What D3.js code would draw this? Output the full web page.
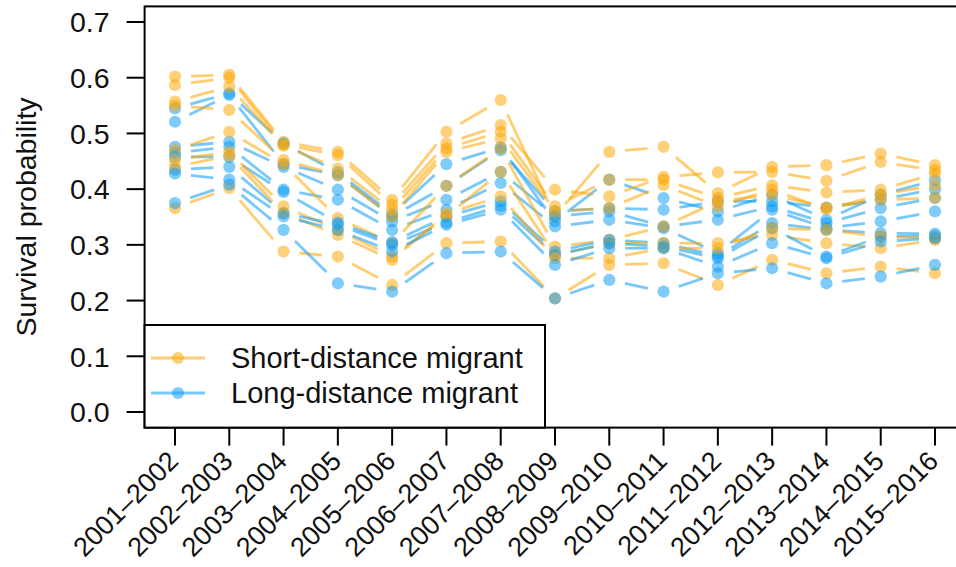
<!DOCTYPE html>
<html><head><meta charset="utf-8">
<script src="https://cdn.jsdelivr.net/npm/d3@7"></script>
<style>html,body{margin:0;padding:0;background:#fff;}svg{display:block;font-family:"Liberation Sans",Arial,Helvetica,sans-serif;}</style>
</head><body>
<svg id="c" width="956" height="567"></svg>
<script>
const periods = ["2001\u20132002","2002\u20132003","2003\u20132004","2004\u20132005","2005\u20132006","2006\u20132007","2007\u20132008","2008\u20132009","2009\u20132010","2010\u20132011","2011\u20132012","2012\u20132013","2013\u20132014","2014\u20132015","2015\u20132016"];
const yTicks = [0,0.1,0.2,0.3,0.4,0.5,0.6,0.7];
const legendLabels = ["Short-distance migrant","Long-distance migrant"];

// Short-distance migrants (one row per species)
const shortDistance = [
  [0.602,0.605,0.485,0.467,0.381,0.503,0.560,0.351,0.467,0.476,0.393,0.440,0.443,0.464,0.443],
  [0.587,0.600,0.480,0.461,0.372,0.482,0.515,0.399,0.387,0.422,0.430,0.431,0.415,0.449,0.434],
  [0.557,0.584,0.478,0.437,0.363,0.473,0.503,0.369,0.417,0.417,0.384,0.407,0.394,0.399,0.428],
  [0.550,0.542,0.452,0.425,0.351,0.467,0.491,0.360,0.366,0.407,0.369,0.399,0.364,0.390,0.407],
  [0.470,0.503,0.445,0.348,0.303,0.406,0.473,0.297,0.309,0.333,0.378,0.390,0.367,0.381,0.384],
  [0.452,0.467,0.369,0.327,0.279,0.351,0.431,0.282,0.303,0.303,0.303,0.318,0.303,0.294,0.309],
  [0.440,0.460,0.357,0.318,0.273,0.356,0.387,0.276,0.276,0.294,0.294,0.330,0.327,0.315,0.312],
  [0.366,0.402,0.288,0.279,0.228,0.303,0.306,0.204,0.264,0.267,0.228,0.273,0.249,0.261,0.249]
];
// Long-distance migrants (one row per species)
const longDistance = [
  [0.545,0.572,0.482,0.430,0.355,0.445,0.475,0.342,0.417,0.384,0.360,0.390,0.345,0.390,0.416],
  [0.521,0.569,0.445,0.425,0.351,0.406,0.470,0.360,0.366,0.363,0.378,0.378,0.367,0.381,0.400],
  [0.476,0.485,0.440,0.399,0.342,0.381,0.431,0.351,0.360,0.333,0.345,0.369,0.339,0.366,0.384],
  [0.465,0.476,0.399,0.381,0.327,0.363,0.411,0.333,0.345,0.330,0.285,0.363,0.330,0.342,0.360],
  [0.458,0.458,0.395,0.340,0.305,0.351,0.378,0.288,0.309,0.303,0.280,0.339,0.327,0.321,0.320],
  [0.435,0.440,0.357,0.336,0.300,0.340,0.370,0.282,0.303,0.297,0.276,0.330,0.279,0.315,0.316],
  [0.428,0.417,0.351,0.327,0.288,0.336,0.363,0.264,0.294,0.294,0.261,0.303,0.276,0.306,0.312],
  [0.375,0.408,0.327,0.231,0.216,0.285,0.288,0.204,0.237,0.216,0.249,0.258,0.231,0.243,0.264]
];

const colShort = "#FFA500", colLong = "#0A9BF5";
const svg = d3.select("#c");
const x = d3.scaleLinear().domain([1, 15]).range([175, 935]);
const y = d3.scaleLinear().domain([0, 0.7]).range([412, 22]);
const xPad = (x(2) - x(1)) * 0.56, yPad = (y(0) - y(0.7)) * 0.04;
const boxL = x(1) - xPad, boxR = x(15) + xPad, boxT = y(0.7) - yPad, boxB = y(0) + yPad;

const gData = svg.append("g");
const gap = 16;
function drawSeries(vals, color) {
  const pts = vals.map((v, i) => [x(i + 1), y(v)]);
  for (let i = 0; i < pts.length - 1; i++) {
    const [x1, y1] = pts[i], [x2, y2] = pts[i + 1];
    const L = Math.hypot(x2 - x1, y2 - y1);
    if (L <= 2 * gap) continue;
    const ux = (x2 - x1) / L, uy = (y2 - y1) / L;
    gData.append("line")
      .attr("x1", x1 + ux * gap).attr("y1", y1 + uy * gap)
      .attr("x2", x2 - ux * gap).attr("y2", y2 - uy * gap)
      .attr("stroke", color).attr("stroke-opacity", 0.55)
      .attr("stroke-width", 2.8).attr("stroke-linecap", "butt");
  }
  gData.selectAll(null).data(pts).enter().append("circle")
    .attr("cx", d => d[0]).attr("cy", d => d[1]).attr("r", 6.1)
    .attr("fill", color).attr("fill-opacity", 0.52);
}
for (let i = 0; i < Math.max(shortDistance.length, longDistance.length); i++) {
  if (shortDistance[i]) drawSeries(shortDistance[i], colShort);
  if (longDistance[i]) drawSeries(longDistance[i], colLong);
}

// box
svg.append("rect").attr("x", boxL).attr("y", boxT).attr("width", boxR - boxL).attr("height", boxB - boxT)
  .attr("fill", "none").attr("stroke", "#000").attr("stroke-width", 2);

// y axis ticks
const ya = svg.append("g");
yTicks.forEach(t => {
  ya.append("line").attr("x1", boxL - 18).attr("x2", boxL).attr("y1", y(t)).attr("y2", y(t))
    .attr("stroke", "#000").attr("stroke-width", 2);
  ya.append("text").attr("x", boxL - 35).attr("y", y(t)).attr("dy", "0.36em")
    .attr("text-anchor", "end").attr("font-size", 28.5).attr("fill", "#111").text(t.toFixed(1));
});
svg.append("text").attr("transform", `translate(36,${(y(0) + y(0.7)) / 2}) rotate(-90)`)
  .attr("text-anchor", "middle").attr("font-size", 28.5).attr("fill", "#111").text("Survival probability");

// x axis ticks
const xa = svg.append("g");
periods.forEach((p, i) => {
  const xx = x(i + 1);
  xa.append("line").attr("x1", xx).attr("x2", xx).attr("y1", boxB).attr("y2", boxB + 18)
    .attr("stroke", "#000").attr("stroke-width", 2);
  xa.append("text").attr("transform", `translate(${xx + 5},${boxB + 35}) rotate(-45)`)
    .attr("text-anchor", "end").attr("font-size", 27).attr("fill", "#111").text(p);
});

// legend
const lg = svg.append("g");
lg.append("rect").attr("x", boxL).attr("y", 325).attr("width", 545 - boxL).attr("height", boxB - 325)
  .attr("fill", "#fff").attr("stroke", "#000").attr("stroke-width", 2);
[[colShort, 358], [colLong, 393]].forEach((d, i) => {
  lg.append("line").attr("x1", 151).attr("x2", 205).attr("y1", d[1]).attr("y2", d[1])
    .attr("stroke", d[0]).attr("stroke-opacity", 0.55).attr("stroke-width", 2.8);
  lg.append("circle").attr("cx", 178).attr("cy", d[1]).attr("r", 6.1).attr("fill", d[0]).attr("fill-opacity", 0.52);
  lg.append("text").attr("x", 231).attr("y", d[1]).attr("dy", "0.36em").attr("font-size", 29)
    .attr("fill", "#111").text(legendLabels[i]);
});
</script>
</body></html>
